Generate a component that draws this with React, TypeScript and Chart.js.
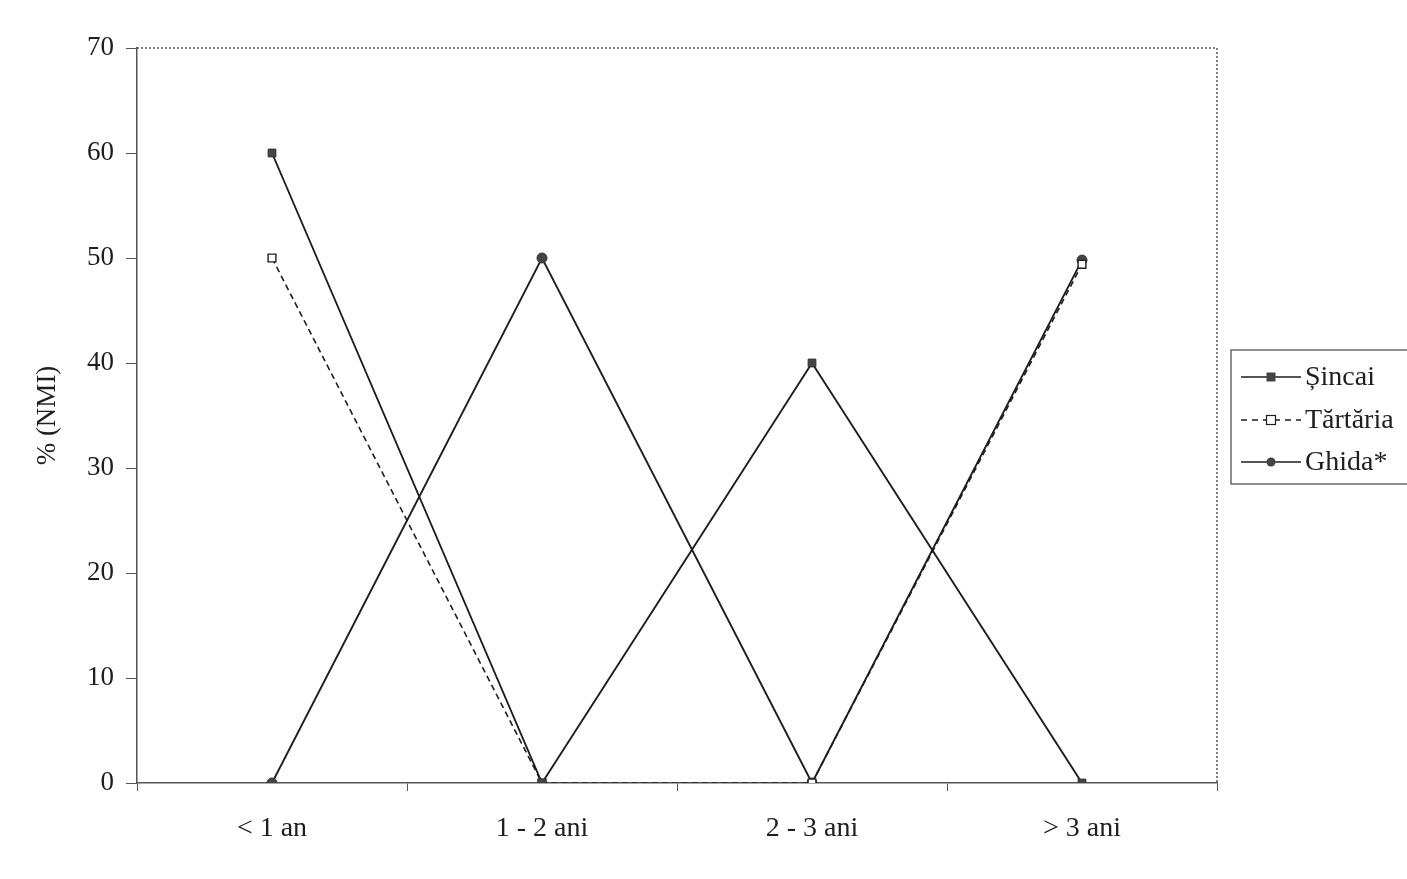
import React, { useEffect, useRef } from "react";
import { Chart, registerables } from "chart.js";

Chart.register(...registerables);

const categories = ["< 1 an", "1 - 2 ani", "2 - 3 ani", "> 3 ani"];
const sincai = [60, 0, 40, 0];
const tartaria = [50, 0, 0, 49.4];
const ghida = [0, 50, 0, 49.8];
const seriesNames = ["Șincai", "Tărtăria", "Ghida*"];
const yTicks = [0, 10, 20, 30, 40, 50, 60, 70];

const FONT = "'Liberation Serif', 'Times New Roman', serif";
const INK = "#1e1e1e";

const frameAndLegend = {
  id: "frameAndLegend",
  afterDraw(chart: any) {
    const { ctx, chartArea } = chart;
    const { left, right, top, bottom } = chartArea;
    ctx.save();
    ctx.strokeStyle = "#555";
    ctx.lineWidth = 1.5;
    ctx.setLineDash([2, 2]);
    ctx.beginPath();
    ctx.moveTo(left, top);
    ctx.lineTo(right, top);
    ctx.lineTo(right, bottom);
    ctx.stroke();
    ctx.setLineDash([]);

    // legend box
    const bx = 1231, by = 350, bw = 190, bh = 134;
    ctx.strokeStyle = "#444";
    ctx.lineWidth = 1.2;
    ctx.strokeRect(bx, by, bw, bh);
    const rows = [
      { y: 377, dash: [] as number[], style: "sq" },
      { y: 420, dash: [6, 5], style: "hsq" },
      { y: 462, dash: [] as number[], style: "circ" },
    ];
    ctx.font = `28px ${FONT}`;
    ctx.textBaseline = "middle";
    rows.forEach((r, i) => {
      ctx.strokeStyle = INK;
      ctx.lineWidth = 1.6;
      ctx.setLineDash(r.dash);
      ctx.beginPath();
      ctx.moveTo(bx + 10, r.y);
      ctx.lineTo(bx + 70, r.y);
      ctx.stroke();
      ctx.setLineDash([]);
      const cx = bx + 40;
      if (r.style === "sq") {
        ctx.fillStyle = "#444";
        ctx.fillRect(cx - 4.5, r.y - 4.5, 9, 9);
      } else if (r.style === "hsq") {
        ctx.fillStyle = "#fff";
        ctx.fillRect(cx - 4.5, r.y - 4.5, 9, 9);
        ctx.strokeStyle = INK;
        ctx.lineWidth = 1.2;
        ctx.strokeRect(cx - 4.5, r.y - 4.5, 9, 9);
      } else {
        ctx.fillStyle = "#444";
        ctx.beginPath();
        ctx.arc(cx, r.y, 4.5, 0, Math.PI * 2);
        ctx.fill();
      }
      ctx.fillStyle = INK;
      ctx.textAlign = "left";
      ctx.fillText(seriesNames[i], bx + 74, r.y + 1);
    });
    ctx.restore();
  },
};

export default function App() {
  const ref = useRef<HTMLCanvasElement>(null);
  useEffect(() => {
    document.body.style.margin = "0";
    document.body.style.background = "#fff";
    const chart = new Chart(ref.current!, {
      type: "line",
      data: {
        labels: categories,
        datasets: [
          {
            label: seriesNames[0],
            data: sincai,
            borderColor: INK,
            borderWidth: 1.9,
            pointStyle: "rect",
            pointRadius: 5.5,
            pointBackgroundColor: "#444",
            pointBorderColor: "#333",
            pointBorderWidth: 1,
          },
          {
            label: seriesNames[1],
            data: tartaria,
            borderColor: INK,
            borderWidth: 1.6,
            borderDash: [6, 4],
            pointStyle: "rect",
            pointRadius: 5.5,
            pointBackgroundColor: "#fff",
            pointBorderColor: INK,
            pointBorderWidth: 1.4,
          },
          {
            label: seriesNames[2],
            data: ghida,
            borderColor: INK,
            borderWidth: 1.9,
            pointStyle: "circle",
            pointRadius: 5,
            pointBackgroundColor: "#444",
            pointBorderColor: "#333",
            pointBorderWidth: 1,
          },
        ],
      },
      options: {
        animation: false,
        responsive: false,
        maintainAspectRatio: false,
        layout: { padding: { top: 48, right: 190, bottom: 0, left: 0 } },
        plugins: {
          legend: { display: false },
          tooltip: { enabled: false },
        },
        scales: {
          x: {
            type: "category",
            offset: true,
            grid: {
              offset: true,
              drawOnChartArea: false,
              drawTicks: true,
              tickLength: 8,
              color: "#555",
            },
            border: { display: true, color: "#555", width: 1.5, dash: [3, 2] },
            ticks: {
              color: INK,
              font: { family: FONT, size: 28 },
              padding: 21,
              maxRotation: 0,
            },
            afterFit(scale: any) {
              scale.height = 96;
            },
          },
          y: {
            min: 0,
            max: 70,
            afterBuildTicks(scale: any) {
              scale.ticks = yTicks.map((v) => ({ value: v }));
            },
            grid: {
              drawOnChartArea: false,
              drawTicks: true,
              tickLength: 11,
              color: "#555",
            },
            border: { display: true, color: "#555", width: 1.5, dash: [2, 2] },
            ticks: {
              color: INK,
              font: { family: FONT, size: 27 },
              padding: 12,
            },
            title: {
              display: true,
              text: "% (NMI)",
              color: INK,
              font: { family: FONT, size: 27 },
              padding: { top: 32, bottom: 0 },
            },
            afterFit(scale: any) {
              scale.width = 137;
            },
          },
        },
      },
      plugins: [frameAndLegend],
    });
    return () => chart.destroy();
  }, []);
  return (
    <div style={{ position: "absolute", left: 0, top: 0, width: 1407, height: 879, background: "#fff" }}>
      <canvas ref={ref} width={1407} height={879} style={{ width: 1407, height: 879 }} />
    </div>
  );
}
